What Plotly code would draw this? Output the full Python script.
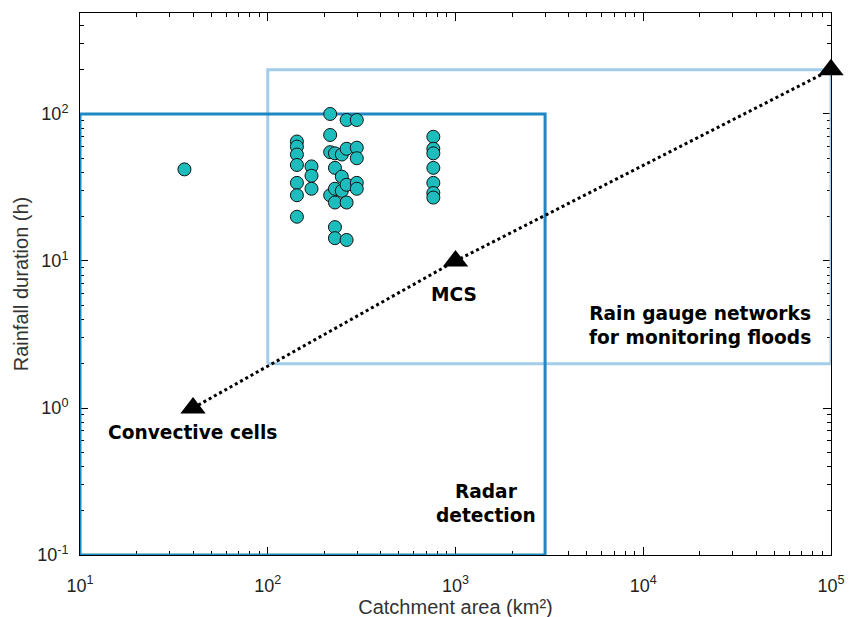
import plotly.graph_objects as go

# catchment area (km2) and rainfall duration (h) of observed events
event_area = [36,
              143, 143, 143, 143, 143, 143, 143,
              171, 171, 171,
              215, 215, 215, 215,
              228, 228, 228, 228, 228, 228,
              248, 248, 248,
              263, 263, 263, 263, 263,
              298, 298, 298, 298, 298,
              762, 762, 762, 762, 762, 762, 762]
event_duration = [42,
                  65, 60, 53, 45, 34, 28, 20,
                  44, 38, 31,
                  100, 72, 55, 28,
                  54, 43, 31, 25, 17, 14.3,
                  53, 37.5, 30,
                  91, 58, 33, 25, 13.9,
                  91, 59, 50, 34, 31,
                  70, 58, 54, 43, 34, 29, 27]

# storm types
storm_area = [40, 1000, 1e5]
storm_duration = [1, 10, 200]
storm_names = ['Convective cells', 'MCS', 'Fronts']

# detection domains (rectangles)
radar_area = [10, 3000, 3000, 10, 10]
radar_duration = [0.1, 0.1, 100, 100, 0.1]
gauge_area = [100, 1e5, 1e5, 100, 100]
gauge_duration = [2, 2, 200, 200, 2]

x_major = [10, 100, 1000, 10000, 100000]
x_labels = ['10<sup>1</sup>', '10<sup>2</sup>', '10<sup>3</sup>', '10<sup>4</sup>', '10<sup>5</sup>']
y_major = [0.1, 1, 10, 100]
y_labels = ['10<sup>-1</sup>', '10<sup>0</sup>', '10<sup>1</sup>', '10<sup>2</sup>']

x_minor = [m * 10 ** e for e in range(1, 5) for m in range(2, 10)]
y_minor = [m * 10 ** e for e in range(-1, 3) for m in range(2, 10)]

fig = go.Figure()

fig.add_trace(go.Scatter(x=gauge_area, y=gauge_duration, mode='lines',
                         line=dict(color='#a3cdea', width=3), hoverinfo='skip'))
fig.add_trace(go.Scatter(x=radar_area, y=radar_duration, mode='lines',
                         line=dict(color='#1f87c3', width=3), hoverinfo='skip'))

fig.add_trace(go.Scatter(
    x=event_area, y=event_duration, mode='markers',
    marker=dict(size=13, color='#1dbdbd', line=dict(color='#111111', width=1))
))

fig.add_trace(go.Scatter(
    x=storm_area, y=storm_duration, mode='lines+markers',
    line=dict(color='black', width=3, dash='dot'),
    marker=dict(symbol='triangle-up', size=22, color='black'),
    cliponaxis=False
))

label_font = dict(family='DejaVu Sans', size=18.6, color='black')
fig.add_annotation(x=1.60, y=-0.17, xref='x', yref='y', text='<b>Convective cells</b>',
                   showarrow=False, font=label_font)
fig.add_annotation(x=2.99, y=0.77, xref='x', yref='y', text='<b>MCS</b>',
                   showarrow=False, font=label_font)
fig.add_annotation(x=5.02, y=2.10, xref='x', yref='y', text='<b>Fronts</b>',
                   showarrow=False, font=label_font)
fig.add_annotation(x=4.30, y=0.56, xref='x', yref='y',
                   text='<b>Rain gauge networks<br>for monitoring floods</b>',
                   showarrow=False, font=label_font)
fig.add_annotation(x=3.16, y=-0.65, xref='x', yref='y',
                   text='<b>Radar<br>detection</b>',
                   showarrow=False, font=label_font)

axis_common = dict(
    type='log', showgrid=False, zeroline=False, automargin=False,
    showline=True, linecolor='black', linewidth=1, mirror='ticks',
    ticks='inside', ticklen=8, tickcolor='black',
    tickfont=dict(family='Liberation Sans', size=18, color='#222222'),
    layer='below traces',
)

# the page body adds an 8px offset, so left/top margins are trimmed by 8
fig.update_layout(
    width=867, height=617,
    margin=dict(l=72, r=44, t=5, b=70),
    plot_bgcolor='white', paper_bgcolor='white',
    showlegend=False,
    xaxis=dict(axis_common, range=[1, 5], tickmode='array', tickvals=x_major, ticktext=x_labels,
               ticklabelstandoff=14,
               minor=dict(ticks='inside', ticklen=4, tickcolor='black',
                          tickmode='array', tickvals=x_minor),
               title=dict(text='Catchment area (km²)', standoff=2,
                          font=dict(family='Liberation Sans', size=20, color='#333333'))),
    yaxis=dict(axis_common, range=[-1, 2.687], tickmode='array', tickvals=y_major, ticktext=y_labels,
               ticklabelstandoff=7,
               minor=dict(ticks='inside', ticklen=4, tickcolor='black',
                          tickmode='array', tickvals=y_minor),
               title=dict(text='Rainfall duration (h)', standoff=3,
                          font=dict(family='Liberation Sans', size=20, color='#333333'))),
)

fig.write_html('out.html')
